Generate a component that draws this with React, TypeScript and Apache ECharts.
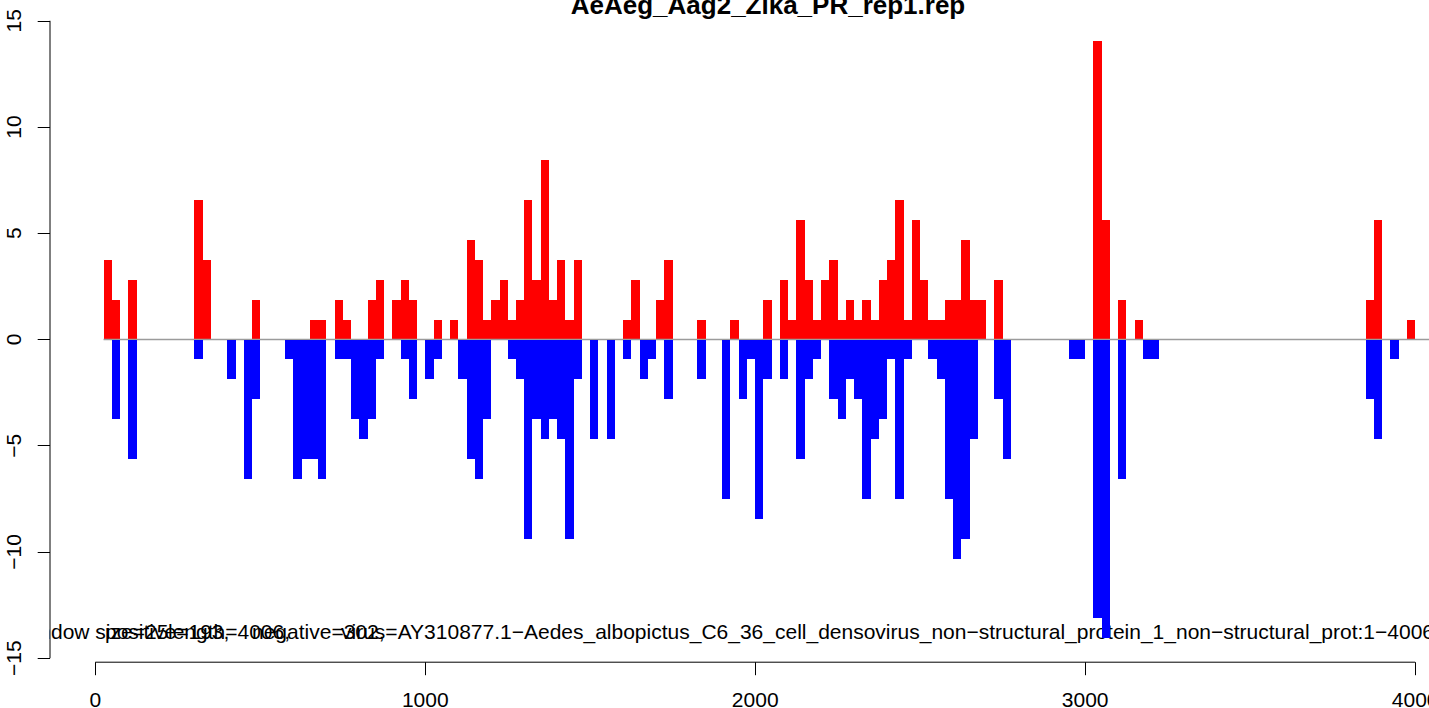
import React, { useEffect, useRef } from "react";
import * as echarts from "echarts";

// ---- data ----
const BIN = 25;
const xTicks = [0, 1000, 2000, 3000, 4000];
const yTicks = [-15, -10, -5, 0, 5, 10, 15];
const titleText = "AeAeg_Aag2_Zika_PR_rep1.rep";

const redStarts = [25, 50, 100, 300, 325, 475, 650, 675, 725, 750, 825, 850, 900, 925, 950, 1025, 1075, 1125, 1150, 1175, 1200, 1225, 1250, 1275, 1300, 1325, 1350, 1375, 1400, 1425, 1450, 1600, 1625, 1700, 1725, 1825, 1925, 2025, 2075, 2100, 2125, 2150, 2175, 2200, 2225, 2250, 2275, 2300, 2325, 2350, 2375, 2400, 2425, 2450, 2475, 2500, 2525, 2550, 2575, 2600, 2625, 2650, 2675, 2725, 3025, 3050, 3100, 3150, 3850, 3875, 3975];
const redValues = [3.75, 1.875, 2.8125, 6.5625, 3.75, 1.875, 0.9375, 0.9375, 1.875, 0.9375, 1.875, 2.8125, 1.875, 2.8125, 1.875, 0.9375, 0.9375, 4.6875, 3.75, 0.9375, 1.875, 2.8125, 0.9375, 1.875, 6.5625, 2.8125, 8.4375, 1.875, 3.75, 0.9375, 3.75, 0.9375, 2.8125, 1.875, 3.75, 0.9375, 0.9375, 1.875, 2.8125, 0.9375, 5.625, 2.8125, 0.9375, 2.8125, 3.75, 0.9375, 1.875, 0.9375, 1.875, 0.9375, 2.8125, 3.75, 6.5625, 0.9375, 5.625, 2.8125, 0.9375, 0.9375, 1.875, 1.875, 4.6875, 1.875, 1.875, 2.8125, 14.0625, 5.625, 1.875, 0.9375, 1.875, 5.625, 0.9375];

const blueStarts = [50, 100, 300, 400, 450, 475, 575, 600, 625, 650, 675, 725, 750, 775, 800, 825, 850, 925, 950, 1000, 1025, 1100, 1125, 1150, 1175, 1250, 1275, 1300, 1325, 1350, 1375, 1400, 1425, 1450, 1500, 1550, 1600, 1650, 1675, 1725, 1825, 1900, 1950, 1975, 2000, 2025, 2075, 2125, 2150, 2175, 2225, 2250, 2275, 2300, 2325, 2350, 2375, 2400, 2425, 2450, 2525, 2550, 2575, 2600, 2625, 2650, 2725, 2750, 2950, 2975, 3025, 3050, 3100, 3175, 3200, 3850, 3875, 3925];
const blueValues = [-3.75, -5.625, -0.9375, -1.875, -6.5625, -2.8125, -0.9375, -6.5625, -5.625, -5.625, -6.5625, -0.9375, -0.9375, -3.75, -4.6875, -3.75, -0.9375, -0.9375, -2.8125, -1.875, -0.9375, -1.875, -5.625, -6.5625, -3.75, -0.9375, -1.875, -9.375, -3.75, -4.6875, -3.75, -4.6875, -9.375, -1.875, -4.6875, -4.6875, -0.9375, -1.875, -0.9375, -2.8125, -1.875, -7.5, -2.8125, -0.9375, -8.4375, -1.875, -1.875, -5.625, -1.875, -0.9375, -2.8125, -3.75, -1.875, -2.8125, -7.5, -4.6875, -3.75, -0.9375, -7.5, -0.9375, -0.9375, -1.875, -7.5, -10.3125, -9.375, -4.6875, -2.8125, -5.625, -0.9375, -0.9375, -13.125, -14.0625, -6.5625, -0.9375, -0.9375, -2.8125, -4.6875, -0.9375];

const footTexts = [
  "window size=25",
  "positive=193,",
  "length=4006,",
  "negative=302,",
  "virus=AY310877.1\u2212Aedes_albopictus_C6_36_cell_densovirus_non\u2212structural_protein_1_non\u2212structural_prot:1\u22124006",
];

// ---- layout ----
const W = 1429;
const H = 708;
const X_MIN = -137.3;
const X_MAX = 4042;
const Y_MIN = -15.1875;
const Y_MAX = 15.1875;
const FONT = "'Liberation Sans', Arial, Helvetica, sans-serif";
const FOOT_Y = 631;

const fmt = (v: number) => String(v).replace("-", "\u2212");

function barSeries(name: string, starts: number[], values: number[], color: string, z: number) {
  return {
    name,
    type: "custom",
    z,
    clip: true,
    data: starts.map((s, i) => [s, values[i]]),
    encode: { x: 0, y: 1 },
    renderItem: (params: any, api: any) => {
      const x0 = api.value(0);
      const v = api.value(1);
      const p0 = api.coord([x0, 0]);
      const p1 = api.coord([x0 + BIN, v]);
      const left = Math.round(p0[0]);
      const right = Math.round(p1[0]);
      const top = Math.round(Math.min(p0[1], p1[1]));
      const bottom = Math.round(Math.max(p0[1], p1[1]));
      return {
        type: "rect",
        shape: { x: left, y: top, width: right - left, height: bottom - top },
        style: { fill: color },
      };
    },
  };
}

const footStyle = (text: string, align: string) => ({
  text,
  font: `21px ${FONT}`,
  fill: "#000",
  align,
  verticalAlign: "middle",
});

export default function App() {
  const ref = useRef<HTMLDivElement>(null);
  useEffect(() => {
    if (!ref.current) return;
    const chart = echarts.init(ref.current, null, { renderer: "svg" });
    chart.setOption({
      animation: false,
      backgroundColor: "#ffffff",
      textStyle: { fontFamily: FONT },
      grid: {
        left: 50,
        top: 16.8,
        right: 0,
        bottom: H - 662.2,
        containLabel: false,
        outerBoundsMode: "none",
      },
      xAxis: {
        type: "value",
        position: "bottom",
        min: X_MIN,
        max: X_MAX,
        axisLine: { show: false, onZero: false },
        splitLine: { show: false },
        axisTick: {
          show: true,
          customValues: xTicks,
          length: 13,
          lineStyle: { color: "#000", width: 1 },
        },
        axisLabel: {
          customValues: xTicks,
          fontSize: 21,
          color: "#000",
          fontFamily: FONT,
          margin: 27,
          hideOverlap: false,
          formatter: (v: number) => fmt(v),
        },
      },
      yAxis: {
        type: "value",
        position: "left",
        min: Y_MIN,
        max: Y_MAX,
        axisLine: { show: false, onZero: false },
        splitLine: { show: false },
        axisTick: {
          show: true,
          customValues: yTicks,
          length: 12.3,
          lineStyle: { color: "#000", width: 1 },
        },
        axisLabel: {
          customValues: yTicks,
          rotate: 90,
          fontSize: 21,
          color: "#000",
          fontFamily: FONT,
          margin: 26,
          formatter: (v: number) => fmt(v),
        },
      },
      series: [
        barSeries("positive", redStarts, redValues, "#ff0000", 2),
        {
          name: "zero",
          type: "line",
          z: 3,
          silent: true,
          symbol: "none",
          clip: true,
          data: [[BIN, 0], [X_MAX, 0]],
          lineStyle: { color: "#9b9b9b", width: 1.3 },
        },
        barSeries("negative", blueStarts, blueValues, "#0000ff", 4),
        {
          name: "xAxisLine",
          type: "line",
          z: 5,
          silent: true,
          symbol: "none",
          clip: false,
          data: [[xTicks[0], Y_MIN], [xTicks[xTicks.length - 1], Y_MIN]],
          lineStyle: { color: "#000", width: 1 },
        },
        {
          name: "yAxisLine",
          type: "line",
          z: 5,
          silent: true,
          symbol: "none",
          clip: false,
          data: [[X_MIN, yTicks[0]], [X_MIN, yTicks[yTicks.length - 1]]],
          lineStyle: { color: "#000", width: 1 },
        },
      ],
      graphic: [
        {
          type: "text",
          x: 768,
          y: 4.9,
          style: {
            text: titleText,
            font: `bold 26px ${FONT}`,
            fill: "#000",
            align: "center",
            verticalAlign: "middle",
          },
        },
        { type: "text", x: 19.5, y: FOOT_Y, style: footStyle(footTexts[0], "left") },
        { type: "text", x: 105, y: FOOT_Y, style: footStyle(footTexts[1], "left") },
        { type: "text", x: 168, y: FOOT_Y, style: footStyle(footTexts[2], "left") },
        { type: "text", x: 252, y: FOOT_Y, style: footStyle(footTexts[3], "left") },
        { type: "text", x: 1434, y: FOOT_Y, style: footStyle(footTexts[4], "right") },
        { type: "rect", shape: { x: 0, y: FOOT_Y - 18, width: 49.5, height: 34 }, style: { fill: "#ffffff" } },
      ],
    });
    return () => chart.dispose();
  }, []);
  return <div ref={ref} style={{ position: "absolute", left: 0, top: 0, width: W, height: H }} />;
}
